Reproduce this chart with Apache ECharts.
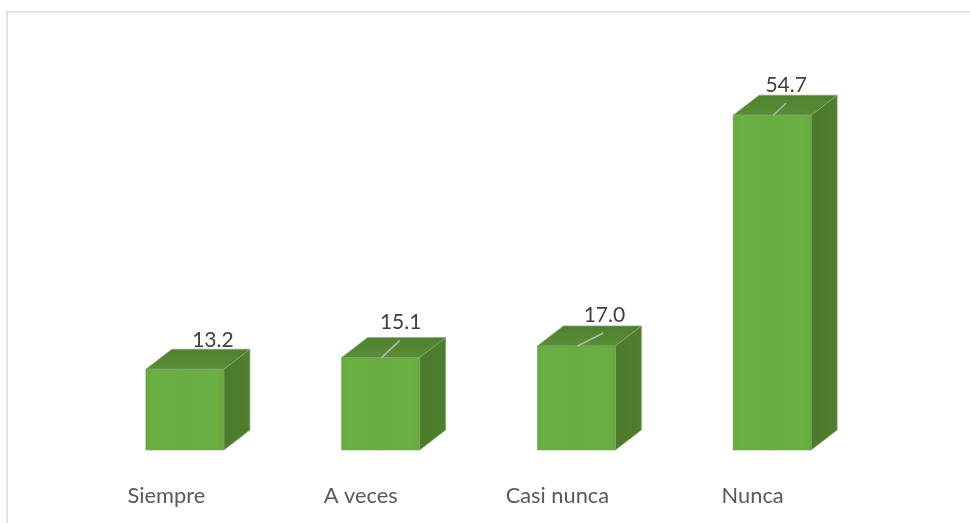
<!DOCTYPE html>
<html><head><meta charset="utf-8">
<style>html,body{margin:0;padding:0;background:#fff}#c{width:970px;height:523px}</style>
<script src="https://cdn.jsdelivr.net/npm/echarts@6/dist/echarts.min.js"></script>
</head><body><div id="c"></div>
<script>
const categories = ['Siempre', 'A veces', 'Casi nunca', 'Nunca'];
const values = [13.2, 15.1, 17.0, 54.7];
const valueLabels = ['13.2', '15.1', '17.0', '54.7'];

// layout only
const labelShift = [[28, -29], [20, -35], [28, -30.5], [14, -30]];
const leaderEnd = [null, [18, -17], [26, -13], [13, -12]];
const catPad = [37, 40, 38, 39];
const BAR_W = 78, DX = 26, DY = 20;

const chart = echarts.init(document.getElementById('c'));
const rich = {};
catPad.forEach((p, i) => { rich['c' + i] = { padding: [0, p, 0, 0], fontFamily: 'Lato', fontSize: 21.8, color: '#595959' }; });

chart.setOption({
  animation: false,
  backgroundColor: '#fff',
  graphic: [
    { type: 'rect', silent: true, shape: { x: 6, y: 11, width: 964, height: 1.5 }, style: { fill: '#dedede' } },
    { type: 'rect', silent: true, shape: { x: 6, y: 11, width: 2, height: 512 }, style: { fill: '#e2e2e2' } }
  ],
  grid: { left: 87, right: 100, top: 82.8, bottom: 73 },
  xAxis: {
    type: 'category', data: categories,
    axisLine: { show: false }, axisTick: { show: false },
    axisLabel: {
      margin: 35, interval: 0,
      formatter: (v, i) => `{c${i}|${v}}`, rich
    }
  },
  yAxis: { type: 'value', min: 0, max: 60, show: false, splitLine: { show: false } },
  series: [{
    type: 'custom',
    data: values.map((v, i) => [i, v]),
    encode: { x: 0, y: 1 },
    clip: false,
    renderItem(params, api) {
      const i = api.value(0);
      const top = api.coord([i, api.value(1)]);
      const base = api.coord([i, 0]);
      const x0 = top[0] - BAR_W / 2, x1 = top[0] + BAR_W / 2, yT = top[1], yB = base[1];
      const edge = '#7f9a6e';
      const children = [
        { type: 'polygon', shape: { points: [[x1, yT], [x1 + DX, yT - DY], [x1 + DX, yB - DY], [x1, yB]] },
          style: { fill: new echarts.graphic.LinearGradient(0, 0, 1, 0, [{offset: 0, color: '#4a7a2a'}, {offset: 1, color: '#4f7f2e'}]), stroke: '#86a074', lineWidth: 0.7 } },
        { type: 'polygon', shape: { points: [[x0, yT], [x0 + DX, yT - DY], [x1 + DX, yT - DY], [x1, yT]] },
          style: { fill: new echarts.graphic.LinearGradient(0, 0, 0, 1, [{offset: 0, color: '#4f8030'}, {offset: 1, color: '#588f36'}]), stroke: '#8ba27a', lineWidth: 0.7 } },
        { type: 'rect', shape: { x: x0, y: yT, width: BAR_W, height: yB - yT },
          style: { fill: new echarts.graphic.LinearGradient(0, 0, 1, 0, [
            {offset: 0, color: '#66aa3d'}, {offset: 0.1, color: '#6bb042'}, {offset: 0.5, color: '#69ad41'},
            {offset: 0.9, color: '#6bb042'}, {offset: 1, color: '#66a93d'}]), stroke: edge, lineWidth: 0.6 } }
      ];
      const lead = leaderEnd[i];
      if (lead) {
        children.push({ type: 'line', shape: { x1: top[0] + 1, y1: yT, x2: top[0] + 1 + lead[0], y2: yT + lead[1] },
          style: { stroke: '#b5b9b0', lineWidth: 1.5 } });
      }
      const s = labelShift[i];
      children.push({ type: 'text', x: top[0] + s[0], y: yT + s[1], z2: 10,
        style: { text: valueLabels[i], fill: '#404040', font: '21px Lato', align: 'center', verticalAlign: 'middle' } });
      return { type: 'group', children };
    }
  }]
});
</script></body></html>
